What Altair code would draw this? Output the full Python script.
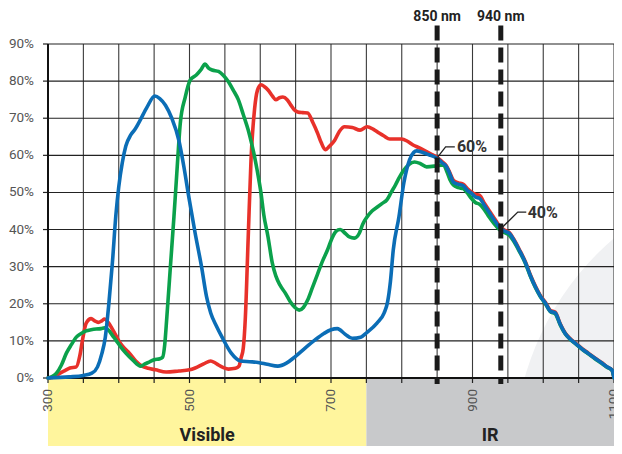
import altair as alt
import pandas as pd

# ---------------- data ----------------
blue_nm = [300, 330, 350, 362, 370, 376, 381, 386, 391, 396, 400, 405, 410, 417, 423, 429, 440, 451, 458, 466,
           475, 485, 492, 499, 508, 517, 524, 530, 538, 546, 559, 572, 585, 597, 610, 625, 637, 649, 663, 677,
           690, 700, 709, 720, 730, 742, 751, 765, 775, 780, 784, 788, 796, 803, 811, 817, 821, 828, 835, 842,
           849, 857, 863, 868, 873, 880, 887, 893, 898, 904, 910, 917, 924, 931, 938, 945, 952, 959, 966, 975,
           982, 989, 996, 1003, 1010, 1017, 1024, 1031, 1038, 1045, 1055, 1063, 1073, 1083, 1090, 1097, 1100]
blue_pct = [0, 0.3, 0.7, 1.3, 3, 6.5, 11, 20, 31, 44, 51.5, 58, 62.5, 65.5, 67, 69, 73, 76, 75.3, 73.5,
            70, 64, 57, 48.8, 39, 30, 22, 17.5, 14, 11, 6.7, 4.6, 4.4, 4.2, 3.7, 3.2, 4, 5.7, 8, 10.2,
            12, 13, 13.3, 11.8, 10.7, 11, 12.3, 14.8, 17.5, 20.5, 26, 34.5, 43.4, 52.6, 58.8, 60.8, 61.2, 60.9, 60.4, 59.9,
            59.3, 58, 57, 55, 52.8, 52.2, 51.8, 50.5, 49.9, 48.8, 48.4, 46.5, 44.5, 42.5, 40.7, 39.6, 39, 37, 34.5, 31,
            27.5, 24.5, 22, 20.2, 18, 17.5, 14.5, 12, 10.5, 9.4, 7.8, 6.7, 5.3, 4, 3, 2.2, 0]

red_nm = [300, 310, 317, 324, 331, 340, 345, 349, 354, 361, 366, 371, 376, 380, 385, 390, 395, 401, 408, 415,
          424, 433, 442, 452, 467, 485, 500, 508, 520, 530, 536, 541, 548, 555, 565, 570, 573, 576, 579, 583,
          587, 592, 596, 601, 606, 611, 617, 622, 627, 632, 638, 643, 648, 653, 660, 667, 674, 681, 686, 692,
          698, 705, 712, 719, 730, 741, 751, 760, 768, 775, 783, 800, 808, 816, 825, 835, 842, 849, 857, 863,
          868, 873, 880, 887, 893, 898, 904, 910, 917, 924, 931, 938, 945, 952, 959, 966, 975, 982, 989, 996,
          1003, 1010, 1017, 1024, 1031, 1038, 1045, 1055, 1063, 1073, 1083, 1090, 1097, 1100]
red_pct = [0, 0.4, 1.3, 2.0, 2.7, 3.0, 6.0, 10.5, 14.8, 16.0, 15.4, 15.0, 15.4, 15.9, 15.0, 13.5, 11.8, 9.7, 8.0, 6.7,
           4.6, 3.2, 2.6, 2.2, 1.6, 1.9, 2.2, 2.7, 3.8, 4.6, 4.1, 3.5, 2.8, 2.4, 2.6, 3.2, 5.5, 8.0, 16.5, 38.0,
           59.0, 72.5, 77.5, 79.0, 78.5, 77.6, 76.0, 75.0, 75.5, 75.7, 75.0, 73.6, 72.3, 71.7, 71.5, 71.4, 69.0, 66.0, 63.5, 61.5,
           62.5, 64.0, 66.5, 67.7, 67.5, 66.8, 67.7, 67.0, 66.0, 65.2, 64.4, 64.4, 63.8, 62.8, 62.0, 61.0, 60.3, 59.6, 58.3, 57.2,
           55.3, 53.3, 52.6, 52.2, 51.0, 50.2, 49.5, 49.2, 47.0, 45.0, 43.0, 41.0, 39.9, 39.2, 37.2, 34.7, 31.2, 27.7, 24.7, 22.2,
           20.4, 18.2, 17.7, 14.6, 12.1, 10.6, 9.5, 7.9, 6.8, 5.4, 4.1, 3.0, 2.2, 0]

green_nm = [300, 305, 312, 319, 326, 333, 340, 347, 354, 361, 368, 375, 380, 386, 391, 396, 403, 410, 420, 431,
            437, 443, 450, 458, 462, 465, 468, 473, 478, 482, 487, 494, 501, 510, 516, 522, 527, 532, 541, 548,
            555, 562, 569, 576, 583, 588, 592, 597, 601, 605, 611, 617, 622, 628, 635, 642, 649, 655, 661, 667,
            674, 681, 688, 695, 700, 707, 713, 720, 726, 733, 740, 745, 751, 758, 765, 772, 779, 785, 791, 797,
            803, 810, 818, 826, 835, 846, 852, 859, 864, 868, 873, 880, 887, 893, 898, 904, 910, 915, 922, 931,
            938, 945, 952, 959, 966, 975, 982, 989, 996, 1003, 1010, 1017, 1024, 1031, 1038, 1045, 1055, 1063, 1073, 1083,
            1090, 1097, 1100]
green_pct = [0, 0.3, 1.3, 3.5, 6.7, 9, 11, 12, 12.7, 13, 13.2, 13.3, 13.5, 12.8, 11.5, 10.2, 8.3, 6.7, 4.8, 3.2,
             3.8, 4.3, 4.9, 5.2, 5.6, 9, 16.5, 30, 43.4, 55, 68.7, 75.7, 80.3, 81.7, 83, 84.6, 83.5, 83, 82.6, 81.5,
             79.8, 77.5, 75, 71, 66.8, 63, 59.6, 54.5, 49.9, 44, 38, 31, 27.5, 25, 23, 20.7, 19, 18.3, 19, 21,
             24.5, 28, 31.5, 34.5, 37, 39.5, 40, 39, 38, 37.7, 39, 41.5, 43.4, 45, 46, 47, 48, 50, 52, 54.2,
             56, 57.5, 58.2, 57.8, 56.9, 57.1, 57.3, 57.4, 55.5, 53.5, 52, 51.3, 51, 49.8, 48.5, 47.3, 46.8, 45.8, 43.8, 41.5,
             40.0, 39.2, 38.5, 36.6, 34.2, 30.8, 27.3, 24.3, 21.9, 20.0, 17.9, 17.3, 14.3, 11.9, 10.4, 9.3, 7.7, 6.6, 5.2, 3.9,
             2.9, 2.1, 0]

x_ticks = [300, 350, 400, 450, 500, 550, 600, 650, 700, 750, 800, 850, 900, 950, 1000, 1050, 1100]
x_label_values = [300, 500, 700, 900, 1100]
x_labels = ["300", "500", "700", "900", "1100"]
y_ticks = [0, 10, 20, 30, 40, 50, 60, 70, 80, 90]
y_labels = ["0%", "10%", "20%", "30%", "40%", "50%", "60%", "70%", "80%", "90%"]

band_start = [300, 750]
band_end = [750, 1100]
band_label = ["Visible", "IR"]
band_color = ["#FFF59D", "#C8C9CB"]

marker_nm = [850, 940]
marker_label = ["850 nm", "940 nm"]

callout_label = ["60%", "40%"]
callout_text_nm = [878, 978]
callout_text_pct = [60.9, 43.1]
leader_id = ["a", "a", "a", "b", "b", "b"]
leader_nm = [851, 862, 875, 940, 964, 976]
leader_pct = [59.6, 62.3, 62.3, 40.2, 44.7, 44.7]

FONT = "Roboto"
W, H = 566, 334
xs = alt.Scale(domain=[300, 1100], nice=False, zero=False)
ys = alt.Scale(domain=[0, 90], nice=False, zero=False)


def X(f):
    return alt.X(f, scale=xs, axis=None)


def Y(f):
    return alt.Y(f, scale=ys, axis=None)


# watermark (decorative)
water = alt.Chart(pd.DataFrame({"k": [0]})).mark_point(
    shape="circle", filled=True, size=324900, color="#F0F1F3", opacity=1, strokeWidth=0, clip=True
).encode(x=alt.value(751), y=alt.value(411))

vgrid_df = pd.DataFrame({"nm": x_ticks, "y0": [0] * len(x_ticks), "y1": [90] * len(x_ticks)})
vgrid = alt.Chart(vgrid_df).mark_rule(color="#3a3a3a", strokeWidth=1.1).encode(
    x=X("nm:Q"), y=Y("y0:Q"), y2="y1:Q")

hgrid_df = pd.DataFrame({"v": y_ticks[1:], "x0": [300] * 9, "x1": [1100] * 9})
hgrid = alt.Chart(hgrid_df).mark_rule(color="#222", strokeWidth=1.1).encode(
    y=Y("v:Q"), x=X("x0:Q"), x2="x1:Q")

band_df = pd.DataFrame({"s": band_start, "e": band_end, "lab": band_label, "col": band_color,
                        "top": [0, 0], "bot": [-19, -19], "mid": [525, 925], "ty": [-16.9, -16.9]})
bands = alt.Chart(band_df).mark_rect().encode(
    x=X("s:Q"), x2="e:Q", y=Y("top:Q"), y2="bot:Q",
    color=alt.Color("col:N", scale=None))
band_text = alt.Chart(band_df).mark_text(font=FONT, fontSize=18, fontWeight="bold", color="#222",
                                         baseline="alphabetic", align="center").encode(
    x=X("mid:Q"), y=Y("ty:Q"), text="lab:N")

# ----- axes drawn as marks -----
xtick_df = pd.DataFrame({"nm": x_ticks})
xticks = alt.Chart(xtick_df).mark_rule(color="#222", strokeWidth=1.2).encode(
    x=X("nm:Q"), y=alt.value(H), y2=alt.value(H + 5))
xlab_df = pd.DataFrame({"nm": x_label_values, "lab": x_labels})
xlabels = alt.Chart(xlab_df).mark_text(font=FONT, fontSize=13.5, color="#555", angle=270,
                                       align="right", baseline="middle").encode(
    x=X("nm:Q"), y=alt.value(H + 11), text="lab:N")
ytick_df = pd.DataFrame({"v": y_ticks, "lab": y_labels})
yticks = alt.Chart(ytick_df).mark_rule(color="#222", strokeWidth=1.2).encode(
    y=Y("v:Q"), x=alt.value(-5), x2=alt.value(0))
ylabels = alt.Chart(ytick_df).mark_text(font=FONT, fontSize=13.5, color="#555",
                                        align="right", baseline="middle").encode(
    y=Y("v:Q"), x=alt.value(-14), text="lab:N")
dom_df = pd.DataFrame({"x0": [300, 300], "x1": [1100, 300], "y0": [0, 0], "y1": [0, 90]})
domains = alt.Chart(dom_df).mark_rule(color="#111", strokeWidth=2).encode(
    x=X("x0:Q"), x2="x1:Q", y=Y("y0:Q"), y2="y1:Q")


def curve(nm, pct, color):
    df = pd.DataFrame({"nm": nm, "pct": pct})
    return alt.Chart(df).mark_line(color=color, strokeWidth=3.6, interpolate="monotone",
                                   strokeJoin="round", strokeCap="round").encode(
        x=X("nm:Q"), y=Y("pct:Q"))


red = curve(red_nm, red_pct, "#E8312A")
green = curve(green_nm, green_pct, "#0BA14B")
blue = curve(blue_nm, blue_pct, "#0B6DB6")

mk_df = pd.DataFrame({"nm": marker_nm, "lab": marker_label, "top": [95, 95], "bot": [-1.6, -1.6],
                      "ty": [96.2, 96.2]})
dashes = alt.Chart(mk_df).mark_rule(color="#1a1a1a", strokeWidth=5, strokeDash=[15, 7]).encode(
    x=X("nm:Q"), y=Y("top:Q"), y2="bot:Q")
dash_text = alt.Chart(mk_df).mark_text(font=FONT, fontSize=14, fontWeight="bold", color="#222",
                                       baseline="alphabetic", align="center").encode(
    x=X("nm:Q"), y=Y("ty:Q"), text="lab:N")

lead_df = pd.DataFrame({"id": leader_id, "nm": leader_nm, "pct": leader_pct, "o": list(range(6))})
leaders = alt.Chart(lead_df).mark_line(color="#222", strokeWidth=1.3).encode(
    x=X("nm:Q"), y=Y("pct:Q"), detail="id:N", order="o:Q")
co_df = pd.DataFrame({"lab": callout_label, "nm": callout_text_nm, "pct": callout_text_pct})
co_text = alt.Chart(co_df).mark_text(font=FONT, fontSize=16, fontWeight="bold", color="#333",
                                     baseline="alphabetic", align="left").encode(
    x=X("nm:Q"), y=Y("pct:Q"), text="lab:N")

chart = alt.layer(
    water, vgrid, hgrid, bands, band_text, xticks, xlabels, yticks, ylabels, domains,
    red, green, blue, dashes, dash_text, leaders, co_text
).properties(
    width=W, height=H,
    autosize=alt.AutoSizeParams(type="none"),
    padding={"left": 40, "top": 36, "right": 0, "bottom": 68},
    background="white",
).configure_view(stroke=None)

chart.save("out.html", embed_options={"renderer": "svg", "actions": False})
